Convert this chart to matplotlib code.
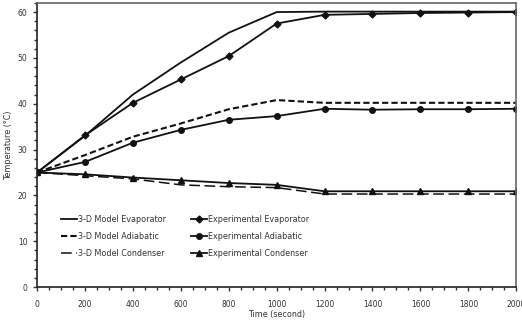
import numpy as np
import matplotlib
matplotlib.use('Agg')
import matplotlib.pyplot as plt
from matplotlib.ticker import MultipleLocator

# time steps (s)
t = [0, 200, 400, 600, 800, 1000, 1200, 1400, 1600, 1800, 2000]

# 3-D model temperatures (degC)
mod_evap = [25.0, 33.0, 42.0, 49.0, 55.5, 60.0, 60.1, 60.1, 60.1, 60.1, 60.1]
mod_adia = [25.0, 28.8, 32.8, 35.7, 38.8, 40.8, 40.2, 40.2, 40.2, 40.2, 40.2]
mod_cond = [25.0, 24.3, 23.6, 22.3, 21.9, 21.7, 20.3, 20.3, 20.3, 20.3, 20.3]

# experimental temperatures (degC)
exp_evap = [25.0, 33.1, 40.2, 45.3, 50.4, 57.5, 59.4, 59.6, 59.8, 59.9, 60.0]
exp_adia = [25.0, 27.3, 31.5, 34.3, 36.5, 37.3, 38.9, 38.7, 38.8, 38.8, 38.9]
exp_cond = [25.0, 24.6, 23.9, 23.3, 22.7, 22.3, 20.9, 20.9, 20.9, 20.9, 20.9]

plt.rcParams['font.family'] = 'DejaVu Sans'
fig = plt.figure(figsize=(5.22, 3.24), dpi=100)
ax = fig.add_axes([0.071, 0.114, 0.918, 0.877])

k = '#111111'
ax.plot(t, mod_evap, color=k, lw=1.3, ls='-', label='3-D Model Evaporator')
ax.plot(t, mod_adia, color=k, lw=1.5, ls=(0, (3, 1.5)), label='3-D Model Adiabatic')
ax.plot(t, mod_cond, color=k, lw=1.1, ls=(0, (7, 3)), label='3-D Model Condenser')
ax.plot(t, exp_evap, color=k, lw=1.3, marker='D', ms=3.5, label='Experimental Evaporator')
ax.plot(t, exp_adia, color=k, lw=1.3, marker='o', ms=4, label='Experimental Adiabatic')
ax.plot(t, exp_cond, color=k, lw=1.3, marker='^', ms=4.5, label='Experimental Condenser')

ax.set_xlim(0, 2000)
ax.set_ylim(0, 62)
ax.xaxis.set_major_locator(MultipleLocator(200))
ax.xaxis.set_minor_locator(MultipleLocator(50))
ax.yaxis.set_major_locator(MultipleLocator(10))
ax.yaxis.set_minor_locator(MultipleLocator(2))
ax.tick_params(which='both', direction='out', colors='#333333', labelsize=5.5, pad=6)
ax.tick_params(which='major', length=3, width=1)
ax.tick_params(which='minor', length=2.5, width=1)
ax.tick_params(axis='y', pad=4)
for s in ['left', 'bottom']:
    ax.spines[s].set_color('#222222')
    ax.spines[s].set_linewidth(1.2)
for s in ['top', 'right']:
    ax.spines[s].set_color('#666666')
    ax.spines[s].set_linewidth(1.2)

ax.set_xlabel('Time (second)', fontsize=5.8, color='#333333', labelpad=1)
ax.set_ylabel('Temperature (\u00b0C)', fontsize=5.8, color='#333333', labelpad=3)

ax.legend(loc='upper left', bbox_to_anchor=(0.035, 0.28), ncol=2, frameon=False,
          fontsize=5.8, handlelength=2.0, handletextpad=0.1, columnspacing=3.1,
          labelspacing=1.0, labelcolor='#333333')

fig.savefig('out.png', dpi=100)
